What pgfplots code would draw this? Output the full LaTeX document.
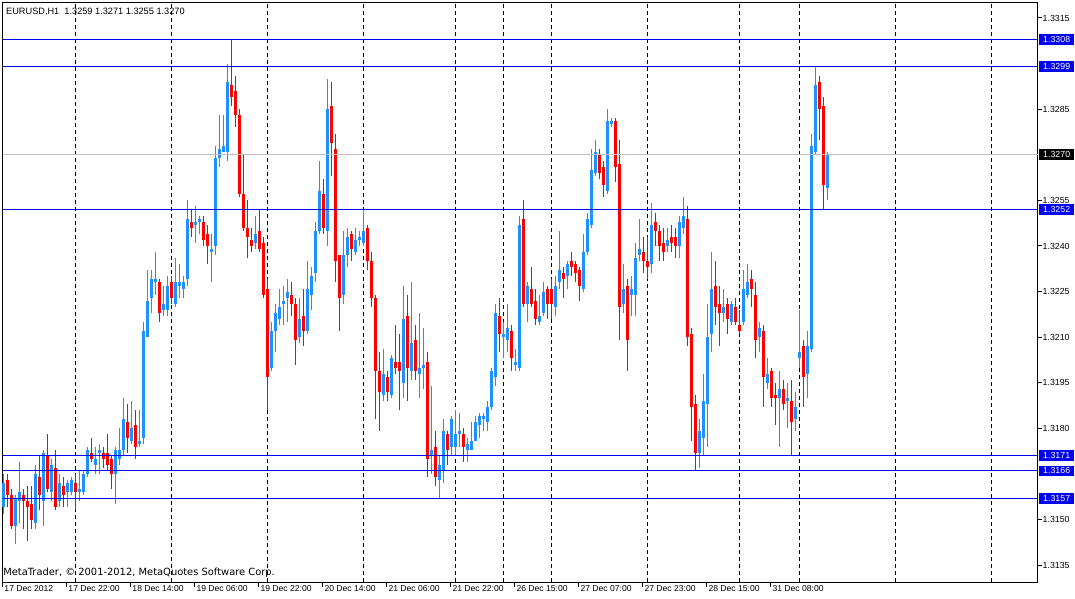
\documentclass[border=0pt]{standalone}
\usepackage{fontspec}
\setmainfont{Liberation Sans}
\newfontfamily\dejavu{DejaVu Sans}
\usepackage{pgfplots}
\pgfplotsset{compat=1.18}
\usepackage{pgfplotstable}
\definecolor{bullc}{HTML}{1E90FF}
\definecolor{bearc}{HTML}{FF0000}
\definecolor{lineblue}{HTML}{0000F0}
\definecolor{askgrey}{HTML}{C0C0C0}

\pgfplotstableread{
i O H L C
0 1.3154 1.3165 1.3152 1.3162
3 1.3148 1.3158 1.3142 1.3157
4 1.3156 1.3169 1.3149 1.3159
8 1.3149 1.3168 1.3147 1.3165
10 1.3156 1.3173 1.3148 1.3172
12 1.3159 1.3170 1.3156 1.3168
14 1.3156 1.3165 1.3154 1.3162
16 1.3159 1.3163 1.3154 1.3162
17 1.3159 1.3164 1.3158 1.3163
19 1.3159 1.3166 1.3156 1.3160
20 1.3159 1.3166 1.3158 1.3165
21 1.3165 1.3174 1.3164 1.3173
23 1.3168 1.3174 1.3165 1.3170
24 1.3172 1.3175 1.3165 1.3173
28 1.3165 1.3174 1.3155 1.3173
29 1.3170 1.3180 1.3168 1.3173
30 1.3173 1.3190 1.3171 1.3183
32 1.3176 1.3189 1.3175 1.3180
34 1.3175 1.3186 1.3174 1.3176
35 1.3177 1.3215 1.3175 1.3212
36 1.3210 1.3232 1.3210 1.3222
37 1.3223 1.3232 1.3218 1.3229
38 1.3228 1.3238 1.3224 1.3229
40 1.3219 1.3227 1.3217 1.3221
41 1.3219 1.3230 1.3217 1.3227
43 1.3221 1.3236 1.3220 1.3228
44 1.3227 1.3234 1.3223 1.3228
45 1.3226 1.3230 1.3223 1.3228
46 1.3229 1.3255 1.3227 1.3249
48 1.3247 1.3253 1.3241 1.3248
49 1.3248 1.3250 1.3244 1.3249
52 1.3238 1.3244 1.3228 1.3239
53 1.3240 1.3273 1.3237 1.3269
54 1.3269 1.3283 1.3266 1.3272
55 1.3271 1.3283 1.3271 1.3273
56 1.3271 1.3300 1.3268 1.3294
63 1.3241 1.3250 1.3239 1.3244
67 1.3200 1.3215 1.3199 1.3212
68 1.3212 1.3221 1.3205 1.3218
69 1.3216 1.3226 1.3214 1.3220
70 1.3221 1.3227 1.3214 1.3222
71 1.3223 1.3229 1.3215 1.3225
74 1.3210 1.3223 1.3208 1.3216
76 1.3212 1.3235 1.3211 1.3226
77 1.3224 1.3233 1.3219 1.3230
78 1.3231 1.3248 1.3228 1.3245
79 1.3245 1.3268 1.3244 1.3258
81 1.3245 1.3295 1.3240 1.3285
85 1.3224 1.3245 1.3221 1.3237
86 1.3237 1.3246 1.3233 1.3243
88 1.3238 1.3246 1.3237 1.3242
89 1.3242 1.3245 1.3240 1.3243
90 1.3241 1.3252 1.3240 1.3245
95 1.3191 1.3206 1.3189 1.3198
97 1.3191 1.3204 1.3190 1.3203
100 1.3195 1.3227 1.3190 1.3216
102 1.3199 1.3228 1.3196 1.3208
104 1.3198 1.3218 1.3190 1.3200
105 1.3200 1.3213 1.3193 1.3201
107 1.3171 1.3194 1.3165 1.3173
109 1.3163 1.3171 1.3157 1.3168
110 1.3166 1.3183 1.3162 1.3179
112 1.3174 1.3184 1.3171 1.3183
113 1.3174 1.3186 1.3171 1.3178
114 1.3178 1.3185 1.3174 1.3179
116 1.3173 1.3177 1.3169 1.3175
117 1.3173 1.3182 1.3173 1.3176
118 1.3176 1.3184 1.3176 1.3182
119 1.3181 1.3185 1.3177 1.3184
120 1.3183 1.3185 1.3179 1.3184
121 1.3182 1.3189 1.3179 1.3187
122 1.3187 1.3200 1.3186 1.3199
123 1.3197 1.3221 1.3194 1.3218
125 1.3210 1.3215 1.3203 1.3211
126 1.3209 1.3221 1.3205 1.3213
128 1.3201 1.3206 1.3199 1.3202
129 1.3200 1.3250 1.3199 1.3247
131 1.3221 1.3228 1.3215 1.3227
134 1.3215 1.3224 1.3214 1.3217
135 1.3218 1.3228 1.3217 1.3225
138 1.3220 1.3230 1.3217 1.3227
139 1.3228 1.3245 1.3226 1.3232
141 1.3230 1.3235 1.3226 1.3234
145 1.3226 1.3244 1.3225 1.3238
146 1.3238 1.3251 1.3237 1.3249
147 1.3247 1.3272 1.3246 1.3265
148 1.3264 1.3275 1.3263 1.3271
151 1.3258 1.3285 1.3257 1.3281
152 1.3280 1.3282 1.3279 1.3281
155 1.3221 1.3234 1.3218 1.3226
157 1.3224 1.3230 1.3217 1.3226
158 1.3224 1.3241 1.3217 1.3236
159 1.3237 1.3249 1.3235 1.3239
162 1.3234 1.3254 1.3231 1.3247
166 1.3240 1.3246 1.3238 1.3242
169 1.3240 1.3250 1.3236 1.3248
170 1.3246 1.3256 1.3244 1.3250
174 1.3172 1.3183 1.3167 1.3179
175 1.3177 1.3198 1.3171 1.3189
176 1.3188 1.3221 1.3174 1.3210
177 1.3211 1.3238 1.3205 1.3226
180 1.3218 1.3226 1.3215 1.3220
182 1.3215 1.3222 1.3214 1.3221
185 1.3215 1.3232 1.3214 1.3226
186 1.3224 1.3234 1.3223 1.3228
189 1.3210 1.3215 1.3205 1.3213
191 1.3195 1.3203 1.3193 1.3198
194 1.3190 1.3199 1.3174 1.3193
196 1.3189 1.3195 1.3180 1.3190
198 1.3183 1.3192 1.3179 1.3187
199 1.3203 1.3219 1.3200 1.3205
201 1.3198 1.3212 1.3190 1.3207
202 1.3206 1.3277 1.3205 1.3273
203 1.3271 1.3299 1.3270 1.3293
206 1.3259 1.3271 1.3255 1.3270
}\bulltable

\pgfplotstableread{
i O H L C
1 1.3163 1.3165 1.3154 1.3158
2 1.3158 1.3160 1.3147 1.3148
5 1.3158 1.3160 1.3147 1.3156
6 1.3156 1.3161 1.3143 1.3154
7 1.3155 1.3161 1.3147 1.3150
9 1.3164 1.3171 1.3153 1.3158
11 1.3171 1.3178 1.3159 1.3160
13 1.3167 1.3173 1.3153 1.3154
15 1.3161 1.3164 1.3154 1.3158
18 1.3162 1.3165 1.3153 1.3159
22 1.3172 1.3177 1.3169 1.3170
25 1.3172 1.3174 1.3167 1.3170
26 1.3172 1.3178 1.3166 1.3168
27 1.3170 1.3171 1.3160 1.3165
31 1.3182 1.3188 1.3172 1.3177
33 1.3181 1.3186 1.3170 1.3174
39 1.3228 1.3229 1.3215 1.3218
42 1.3228 1.3230 1.3221 1.3223
47 1.3248 1.3252 1.3243 1.3246
50 1.3248 1.3250 1.3240 1.3242
51 1.3244 1.3247 1.3234 1.3240
57 1.3293 1.3308 1.3286 1.3289
58 1.3291 1.3296 1.3279 1.3283
59 1.3283 1.3285 1.3256 1.3257
60 1.3257 1.3270 1.3245 1.3246
61 1.3246 1.3255 1.3236 1.3243
62 1.3242 1.3246 1.3238 1.3240
64 1.3245 1.3252 1.3238 1.3239
65 1.3241 1.3243 1.3223 1.3224
66 1.3226 1.3229 1.3186 1.3197
72 1.3224 1.3228 1.3217 1.3221
73 1.3221 1.3223 1.3201 1.3209
75 1.3217 1.3226 1.3207 1.3212
80 1.3257 1.3262 1.3244 1.3246
82 1.3286 1.3294 1.3263 1.3274
83 1.3272 1.3277 1.3228 1.3235
84 1.3237 1.3237 1.3212 1.3223
87 1.3244 1.3245 1.3235 1.3239
91 1.3246 1.3247 1.3232 1.3235
92 1.3235 1.3238 1.3220 1.3223
93 1.3223 1.3224 1.3183 1.3199
94 1.3199 1.3205 1.3179 1.3192
96 1.3197 1.3199 1.3189 1.3192
98 1.3202 1.3214 1.3198 1.3200
99 1.3202 1.3211 1.3186 1.3199
101 1.3217 1.3224 1.3189 1.3200
103 1.3209 1.3214 1.3196 1.3199
106 1.3202 1.3205 1.3164 1.3170
108 1.3174 1.3179 1.3161 1.3164
111 1.3178 1.3179 1.3168 1.3173
115 1.3178 1.3180 1.3169 1.3174
124 1.3217 1.3223 1.3205 1.3211
127 1.3212 1.3214 1.3199 1.3203
130 1.3249 1.3255 1.3220 1.3221
132 1.3226 1.3233 1.3220 1.3221
133 1.3222 1.3226 1.3214 1.3216
136 1.3226 1.3227 1.3216 1.3221
137 1.3226 1.3229 1.3216 1.3221
140 1.3231 1.3233 1.3223 1.3229
142 1.3235 1.3238 1.3230 1.3233
143 1.3234 1.3235 1.3228 1.3231
144 1.3232 1.3233 1.3222 1.3227
149 1.3270 1.3272 1.3262 1.3264
150 1.3266 1.3268 1.3256 1.3260
153 1.3281 1.3282 1.3261 1.3266
154 1.3267 1.3275 1.3209 1.3220
156 1.3227 1.3229 1.3199 1.3209
160 1.3238 1.3243 1.3231 1.3235
161 1.3235 1.3243 1.3229 1.3233
163 1.3248 1.3251 1.3240 1.3245
164 1.3245 1.3247 1.3235 1.3240
165 1.3241 1.3246 1.3235 1.3238
167 1.3243 1.3247 1.3238 1.3241
168 1.3243 1.3246 1.3236 1.3240
171 1.3249 1.3253 1.3207 1.3210
172 1.3211 1.3213 1.3176 1.3187
173 1.3188 1.3191 1.3166 1.3172
178 1.3227 1.3235 1.3214 1.3220
179 1.3221 1.3227 1.3207 1.3218
181 1.3221 1.3223 1.3211 1.3216
183 1.3220 1.3223 1.3214 1.3215
184 1.3214 1.3219 1.3211 1.3212
187 1.3229 1.3232 1.3220 1.3226
188 1.3224 1.3228 1.3203 1.3209
190 1.3212 1.3214 1.3187 1.3197
192 1.3199 1.3200 1.3187 1.3190
193 1.3191 1.3195 1.3181 1.3190
195 1.3193 1.3196 1.3186 1.3188
197 1.3189 1.3196 1.3171 1.3182
200 1.3207 1.3209 1.3187 1.3197
204 1.3294 1.3296 1.3275 1.3285
205 1.3286 1.3289 1.3252 1.3260
}\beartable

\tikzset{pricebox/.style={anchor=west, text=white, inner sep=0pt,
  minimum width=35bp, minimum height=10.7bp,
  font=\fontsize{8.8bp}{10bp}\selectfont}}

\begin{document}
\begin{tikzpicture}[font=\fontsize{9bp}{10bp}\selectfont]
\begin{axis}[
  scale only axis, width=1035bp, height=580bp,
  xmin=2.5, xmax=1037.5, ymin=1.312931, ymax=1.33201,
  clip=false,
  axis line style={line width=1bp, black},
  tick style={black, line width=1bp},
  tick align=outside,
  major tick length=4bp,
  xtick pos=bottom,
  ytick pos=right, yticklabel pos=right,
  xtick={2.5,66.5,130.5,194.5,258.5,322.5,386.5,450.5,514.5,578.5,642.5,706.5,770.5},
  xticklabels={17 Dec 2012,17 Dec 22:00,18 Dec 14:00,19 Dec 06:00,19 Dec 22:00,20 Dec 14:00,21 Dec 06:00,21 Dec 22:00,26 Dec 15:00,27 Dec 07:00,27 Dec 23:00,28 Dec 15:00,31 Dec 08:00},
  xticklabel style={anchor=north west, inner sep=0pt, xshift=1.8bp, yshift=1.5bp, font=\fontsize{8.6bp}{10bp}\selectfont},
  ytick={1.3135,1.3150,1.3180,1.3195,1.3210,1.3225,1.3240,1.3255,1.3285,1.3315},
  yticklabels={1.3135,1.3150,1.3180,1.3195,1.3210,1.3225,1.3240,1.3255,1.3285,1.3315},
  yticklabel style={anchor=west, inner sep=0pt, xshift=1bp, font=\fontsize{8.8bp}{10bp}\selectfont},
  extra x ticks={75.5,171.5,267.5,363.5,455.5,503.5,551.5,647.5,739.5,799.5,895.5,991.5},
  extra x tick labels={},
  extra x tick style={major tick length=0pt, grid=major,
    major grid style={black, line width=1bp, dash pattern=on 4bp off 3bp}},
]
% wicks
\addplot[bullc, line width=1bp, -, quiver={u=0, v=\thisrow{H}-\thisrow{L}}]
  table[x expr=3.5+4*\thisrow{i}, y=L] {\bulltable};
\addplot[bearc, line width=1bp, -, quiver={u=0, v=\thisrow{H}-\thisrow{L}}]
  table[x expr=3.5+4*\thisrow{i}, y=L] {\beartable};
% bodies
\addplot[bullc, line width=3bp, -, quiver={u=0, v=\thisrow{C}-\thisrow{O}}]
  table[x expr=3.5+4*\thisrow{i}, y=O] {\bulltable};
\addplot[bearc, line width=3bp, -, quiver={u=0, v=\thisrow{O}-\thisrow{C}}]
  table[x expr=3.5+4*\thisrow{i}, y=C] {\beartable};
% horizontal lines
\addplot[askgrey, line width=1bp] coordinates {(2.5,1.3270) (1037.5,1.3270)};
\addplot[lineblue, line width=1bp] coordinates {(2.5,1.3308) (1037.5,1.3308)};
\addplot[lineblue, line width=1bp] coordinates {(2.5,1.3299) (1037.5,1.3299)};
\addplot[lineblue, line width=1bp] coordinates {(2.5,1.3252) (1037.5,1.3252)};
\addplot[lineblue, line width=1bp] coordinates {(2.5,1.3171) (1037.5,1.3171)};
\addplot[lineblue, line width=1bp] coordinates {(2.5,1.3166) (1037.5,1.3166)};
\addplot[lineblue, line width=1bp] coordinates {(2.5,1.3157) (1037.5,1.3157)};
% price labels
\node[pricebox, fill=lineblue] at (axis cs:1039,1.3308) {1.3308};
\node[pricebox, fill=lineblue] at (axis cs:1039,1.3299) {1.3299};
\node[pricebox, fill=black] at (axis cs:1039,1.3270) {1.3270};
\node[pricebox, fill=lineblue] at (axis cs:1039,1.3252) {1.3252};
\node[pricebox, fill=lineblue] at (axis cs:1039,1.3171) {1.3171};
\node[pricebox, fill=lineblue] at (axis cs:1039,1.3166) {1.3166};
\node[pricebox, fill=lineblue] at (axis cs:1039,1.3157) {1.3157};
% texts
\node[anchor=base west, inner sep=0pt, font=\fontsize{9.2bp}{10bp}\selectfont] at ([xshift=3.5bp, yshift=-12.5bp]rel axis cs:0,1) {EURUSD,H1\ \ 1.3259 1.3271 1.3255 1.3270};
\node[anchor=base west, inner sep=0pt, font=\dejavu\fontsize{9.9bp}{11bp}\selectfont] at ([xshift=0.6bp, yshift=7bp]rel axis cs:0,0) {MetaTrader, © 2001-2012, MetaQuotes Software Corp.};
\end{axis}
\pgfresetboundingbox
\useasboundingbox (-2.5bp,-16.5bp) rectangle (1072.5bp,582.5bp);
\end{tikzpicture}
\end{document}
